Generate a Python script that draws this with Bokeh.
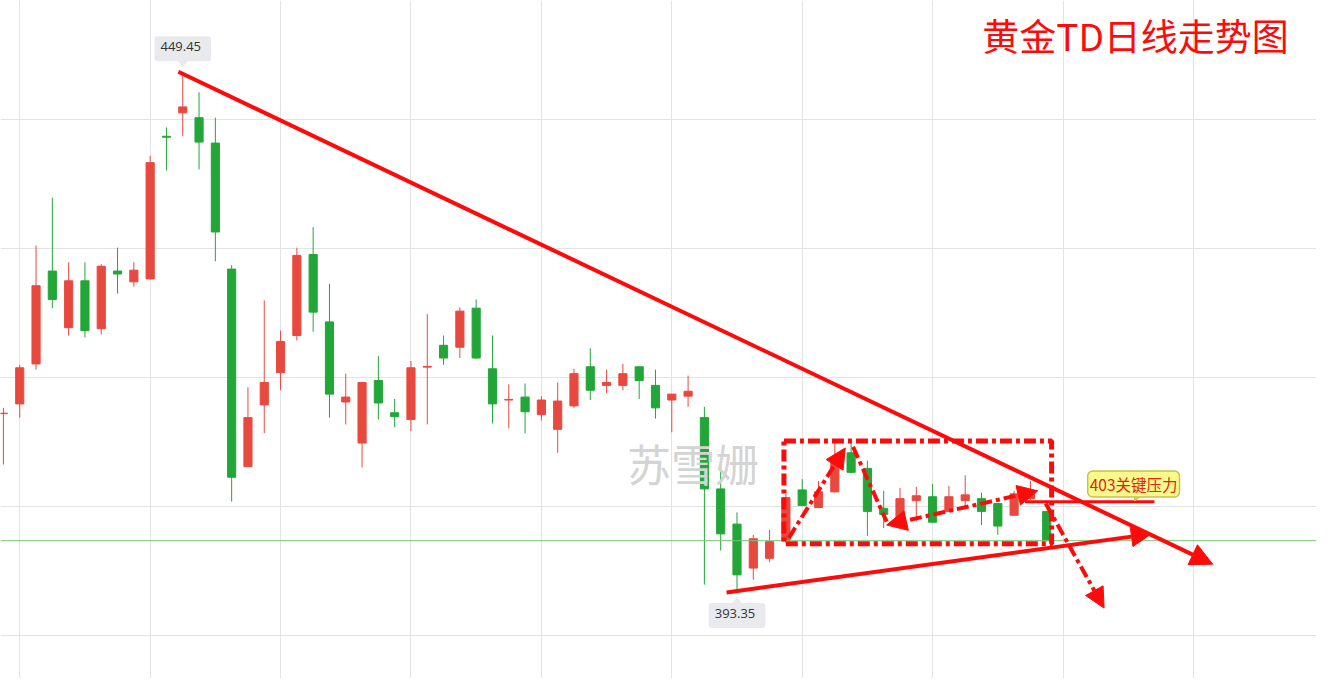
from bokeh.plotting import figure
from bokeh.models import Range1d, FixedTicker, Label, Arrow, NormalHead, BoxAnnotation, Span
from bokeh.embed import file_html
from bokeh.resources import INLINE

# ---- data (daily candles, gold TD) ----
opens = [412.55, 413.61, 417.95, 428.03, 421.88, 426.97, 421.77, 428.03, 426.86, 427.18,
         442.66, 445.21, 444.68, 441.92, 428.24, 406.82, 413.50, 417.00, 421.03, 429.83,
         422.51, 413.82, 409.36, 416.15, 412.65, 411.91, 417.60, 419.97, 419.76, 424.00,
         417.42, 414.03, 414.35, 412.44, 410.85, 413.39, 417.64, 415.62, 415.62, 417.64,
         415.62, 414.03, 414.45, 412.12, 404.38, 400.56, 395.79, 396.85, 398.76, 404.27,
         402.36, 404.06, 408.30, 406.61, 402.26, 400.35, 403.11, 403.53, 401.94, 403.11,
         403.32, 402.79, 401.52, 403.32, 401.94]
highs = [413.18, 417.85, 430.79, 435.98, 428.98, 428.98, 428.77, 430.57, 428.98, 440.54,
         443.62, 449.45, 447.44, 444.68, 428.66, 415.41, 424.85, 421.56, 430.57, 432.80,
         426.65, 416.89, 415.94, 418.80, 414.14, 418.27, 423.36, 421.03, 424.10, 424.95,
         421.03, 415.73, 415.83, 414.45, 415.94, 417.42, 419.65, 417.32, 417.95, 417.64,
         417.32, 414.67, 416.68, 413.29, 407.14, 401.83, 399.40, 399.93, 403.85, 405.44,
         405.23, 409.68, 409.68, 407.45, 404.17, 404.49, 404.59, 404.91, 404.70, 405.86,
         403.96, 402.79, 404.17, 405.23, 402.00]
lows = [407.03, 412.12, 417.32, 424.00, 421.03, 420.82, 421.14, 425.59, 426.33, 427.10,
        438.95, 442.66, 439.06, 429.09, 403.00, 406.80, 410.42, 415.09, 420.50, 421.45,
        412.12, 411.38, 406.71, 411.91, 411.06, 410.64, 411.38, 417.85, 418.59, 418.50,
        411.48, 410.95, 410.42, 411.80, 408.30, 413.18, 414.03, 414.77, 415.09, 414.14,
        412.02, 410.53, 413.29, 393.99, 397.70, 393.35, 394.52, 396.43, 398.55, 402.50,
        402.30, 404.00, 406.10, 399.29, 400.14, 400.30, 400.88, 400.70, 401.90, 402.47,
        400.46, 399.40, 401.50, 403.20, 398.70]
closes = [412.60, 417.53, 426.44, 424.95, 426.97, 421.56, 428.56, 427.71, 428.13, 439.80,
          442.56, 445.85, 442.03, 432.27, 405.65, 412.12, 415.94, 420.39, 429.73, 423.57,
          414.67, 414.35, 415.94, 413.71, 412.23, 417.53, 417.68, 418.59, 423.68, 418.59,
          413.61, 414.10, 412.76, 414.03, 413.92, 416.89, 415.09, 415.94, 416.89, 416.15,
          413.18, 414.67, 414.98, 404.38, 399.50, 395.05, 398.97, 398.65, 403.43, 402.58,
          404.06, 407.24, 406.18, 401.94, 401.62, 403.32, 403.64, 400.77, 403.53, 403.74,
          401.94, 400.35, 403.85, 404.06, 398.76]

key_level = 403
key_text = "403关键压力"
title_text = "黄金TD日线走势图"
watermark_text = "苏雪姗"
grid_x = list(range(1, 80, 8))
grid_y = [388.5, 402.5, 416.5, 430.5, 444.5]

# ---- derived ----
idx = list(range(len(opens)))
UP, DOWN = "#e8493f", "#23a638"
RED = "#ff0a0a"
colors = [UP if c >= o else DOWN for o, c in zip(opens, closes)]
tops = [max(o, c) for o, c in zip(opens, closes)]
bots = [min(o, c) for o, c in zip(opens, closes)]

W, H = 1316, 678
X0, X1 = -0.18, 80.55
Y0, Y1 = 383.80, 457.40
K = (Y1 - Y0) / H          # price per pixel
KX = (X1 - X0) / W         # index per pixel

p = figure(width=W, height=H, x_range=Range1d(X0, X1), y_range=Range1d(Y0, Y1),
           output_backend="svg", toolbar_location=None, min_border=0,
           background_fill_color="white", border_fill_color="white")
p.xaxis.visible = False
p.yaxis.visible = False
p.outline_line_color = None
p.xgrid.ticker = FixedTicker(ticks=grid_x)
p.ygrid.ticker = FixedTicker(ticks=grid_y)
p.xgrid.grid_line_color = "#e3e3e3"
p.ygrid.grid_line_color = "#e3e3e3"

# last price line
p.add_layout(Span(location=closes[-1], dimension="width", line_color="#74c474", line_width=1))

# candles
p.segment(x0=idx, y0=lows, x1=idx, y1=highs, line_color=colors, line_width=1)
p.vbar(x=idx, bottom=bots, top=tops, width=0.5, fill_color=colors, line_color=colors, line_width=1)

# watermark
p.add_layout(Label(x=42.3, y=407.14, text=watermark_text, text_align="center", text_baseline="middle",
                   text_font="Noto Sans CJK SC", text_font_size="44px", text_color="#d4d4d4"))

# high / low labels
hi = max(highs); ihi = highs.index(hi)
lo = min(lows); ilo = lows.index(lo)
LAB_BG = "#e8eaed"
p.patch([ihi - 6 * KX, ihi + 6 * KX, ihi], [hi + 15 * K, hi + 15 * K, hi + 7 * K], fill_color=LAB_BG, line_color=LAB_BG)
p.patch([ilo - 6 * KX, ilo + 6 * KX, ilo], [lo - 15 * K, lo - 15 * K, lo - 7 * K], fill_color=LAB_BG, line_color=LAB_BG)
for xx, yy, off in [(ihi, hi, 25), (ilo, lo, -25)]:
    p.add_layout(Label(x=xx, y=yy, y_offset=off, text=f"{yy:.2f}", text_align="center", text_baseline="middle",
                       text_font="Open Sans", text_font_size="13px", text_color="#333333",
                       background_fill_color=LAB_BG, border_radius=3, padding=(6, 10, 6, 10)))

# trend lines
p.add_layout(Arrow(end=NormalHead(size=22, fill_color=RED, line_color=RED, line_width=1),
                   x_start=10.73, y_start=449.66, x_end=74.18, y_end=396.21,
                   line_color=RED, line_width=4))
p.add_layout(Arrow(end=NormalHead(size=20, fill_color=RED, line_color=RED, line_width=1),
                   x_start=44.36, y_start=393.14, x_end=70.42, y_end=399.50,
                   line_color=RED, line_width=4))

# consolidation box
DD = "12 4 4 4"
p.add_layout(BoxAnnotation(left=47.88, right=64.30, top=409.57, bottom=398.44,
                           fill_alpha=0, line_color=RED, line_alpha=1.0, line_width=5, line_dash=DD))

p.add_layout(Arrow(end=NormalHead(size=20, fill_color=RED, line_color=RED, line_width=1),
                   x_start=48.18, y_start=399.07, x_end=51.64, y_end=408.83,
                   line_color=RED, line_width=4, line_dash=DD))
p.add_layout(Arrow(end=None, x_start=52.12, y_start=408.94, x_end=54.18, y_end=400.83,
                   line_color=RED, line_width=4, line_dash=DD))
p.add_layout(Arrow(start=NormalHead(size=20, fill_color=RED, line_color=RED, line_width=1),
                   end=NormalHead(size=20, fill_color=RED, line_color=RED, line_width=1),
                   x_start=54.18, y_start=400.46, x_end=63.45, y_end=404.17,
                   line_color=RED, line_width=4, line_dash=DD))
p.add_layout(Arrow(end=NormalHead(size=20, fill_color=RED, line_color=RED, line_width=1),
                   x_start=63.94, y_start=402.79, x_end=67.52, y_end=391.44,
                   line_color=RED, line_width=4, line_dash=DD))

# key level
p.line([62.67, 70.61], [key_level, key_level], line_color=RED, line_width=3)

# callout
CALL_BG, CALL_BD = "#fafa8c", "#c4c44a"
p.patch([69.45, 70.15, 69.39], [404.2, 404.2, key_level + 0.1], fill_color=CALL_BG, line_color=CALL_BD, line_width=1.5)
p.add_layout(Label(x=69.33, y=404.91, text=key_text, text_align="center", text_baseline="middle",
                   text_font="Noto Sans CJK SC", text_font_size="15.5px", text_color="#e0250c",
                   background_fill_color=CALL_BG, border_line_color=CALL_BD, border_line_width=1.5,
                   border_radius=5, padding=2))

# title
p.add_layout(Label(x=69.45, y=453.69, text=title_text, text_align="center", text_baseline="middle",
                   text_font="Noto Sans CJK SC", text_font_size="37px", text_color=RED))

open("out.html", "w").write(file_html(p, INLINE))
